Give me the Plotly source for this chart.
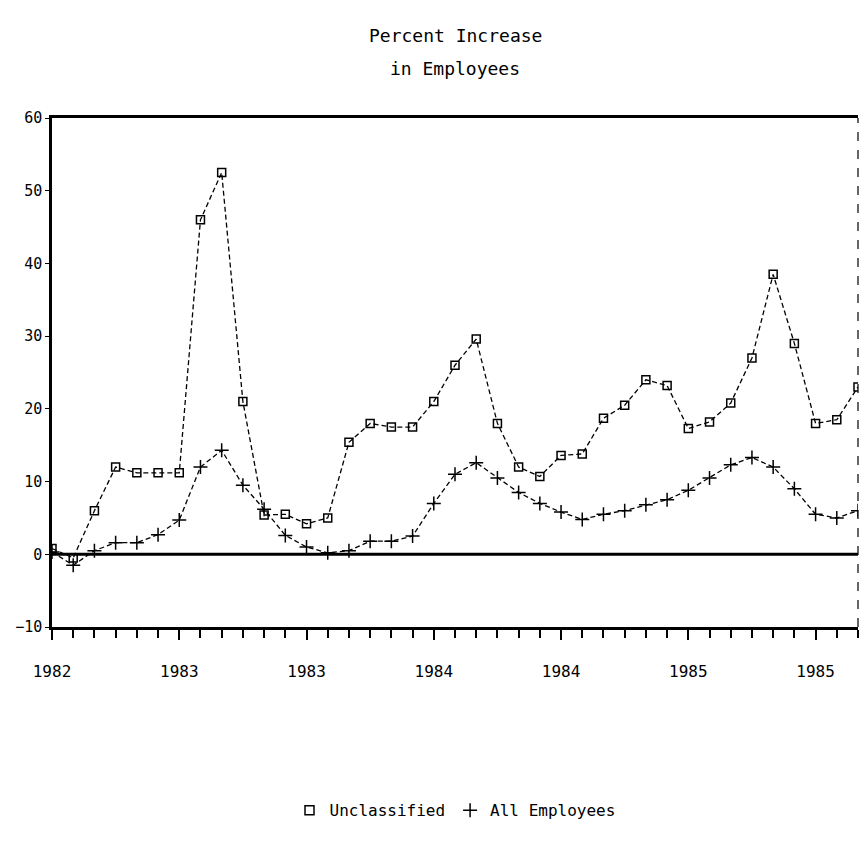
import plotly.graph_objects as go

# monthly points, Jul 1982 onward; labels every 6 months
period_index = list(range(39))
tick_positions = [0, 6, 12, 18, 24, 30, 36]
tick_labels = ["1982", "1983", "1983", "1984", "1984", "1985", "1985"]

unclassified = [0.8, -0.5, 6.0, 12.0, 11.2, 11.2, 11.2, 46.0, 52.5, 21.0,
                5.4, 5.5, 4.2, 5.0, 15.4, 18.0, 17.5, 17.5, 21.0, 26.0,
                29.6, 18.0, 12.0, 10.7, 13.6, 13.8, 18.7, 20.5, 24.0, 23.2,
                17.3, 18.2, 20.8, 27.0, 38.5, 29.0, 18.0, 18.5, 23.0]
all_employees = [0.3, -1.5, 0.5, 1.6, 1.6, 2.7, 4.7, 12.0, 14.3, 9.5,
                 6.2, 2.6, 1.0, 0.2, 0.5, 1.8, 1.8, 2.5, 7.0, 11.0,
                 12.6, 10.5, 8.5, 7.0, 5.8, 4.8, 5.5, 6.0, 6.8, 7.5,
                 8.8, 10.5, 12.3, 13.3, 12.0, 9.0, 5.5, 5.0, 6.0]
series_names = ["Unclassified", "All Employees"]

font = "DejaVu Sans Mono"
line_style = dict(color="black", width=1.3, dash="5px,3px")

fig = go.Figure()
fig.add_trace(go.Scatter(
    x=period_index, y=unclassified, name=series_names[0], mode="lines+markers",
    line=line_style, showlegend=False,
    marker=dict(symbol="square-open", size=8, color="black", line=dict(width=1.5))))
fig.add_trace(go.Scatter(
    x=period_index, y=all_employees, name=series_names[1], mode="lines+markers",
    line=line_style, showlegend=False,
    marker=dict(symbol="cross-thin-open", size=10, color="black", line=dict(width=1.5))))
# legend entries (marker only, as in the original)
fig.add_trace(go.Scatter(
    x=[None], y=[None], name=series_names[0], mode="markers",
    marker=dict(symbol="square-open", size=9, color="black", line=dict(width=1.5))))
fig.add_trace(go.Scatter(
    x=[None], y=[None], name=series_names[1], mode="markers",
    marker=dict(symbol="cross-thin-open", size=10, color="black", line=dict(width=1.5))))

fig.add_shape(type="line", xref="paper", yref="y", x0=0, x1=1, y0=0, y1=0,
              line=dict(color="black", width=3))
fig.add_shape(type="line", xref="paper", yref="paper", x0=1, x1=1, y0=0, y1=1,
              line=dict(color="black", width=1.2, dash="dash"))

fig.add_annotation(text="Percent Increase", xref="paper", yref="paper",
                   x=0.5, y=1.0, yshift=95, showarrow=False,
                   font=dict(family=font, size=18, color="black"))
fig.add_annotation(text="in Employees", xref="paper", yref="paper",
                   x=0.5, y=1.0, yshift=62, showarrow=False,
                   font=dict(family=font, size=18, color="black"))

fig.update_layout(
    width=860, height=837,
    paper_bgcolor="white", plot_bgcolor="white",
    margin=dict(l=44, r=10, t=110, b=218),
    showlegend=True,
    legend=dict(orientation="h", x=0.5, xanchor="center", y=-0.36, yanchor="middle",
                font=dict(family=font, size=16, color="black"), itemwidth=30),
    xaxis=dict(range=[0, 38], tickmode="array", tickvals=tick_positions, ticktext=tick_labels,
               showgrid=False, zeroline=False, showline=True, linecolor="black", linewidth=3,
               mirror=True, ticks="outside", ticklen=10, tickwidth=1.5, tickcolor="black",
               ticklabelstandoff=18, automargin=False,
               minor=dict(tickmode="array", tickvals=period_index, ticks="outside",
                          ticklen=8, tickwidth=1.5, tickcolor="black"),
               tickfont=dict(family=font, size=16, color="black")),
    yaxis=dict(range=[-10, 60], dtick=10, tick0=0, showgrid=False, zeroline=False,
               showline=True, linecolor="black", linewidth=2.5, automargin=False,
               ticks="outside", ticklen=4, tickcolor="black",
               tickfont=dict(family=font, size=15, color="black")),
)

fig.write_html("out.html")
